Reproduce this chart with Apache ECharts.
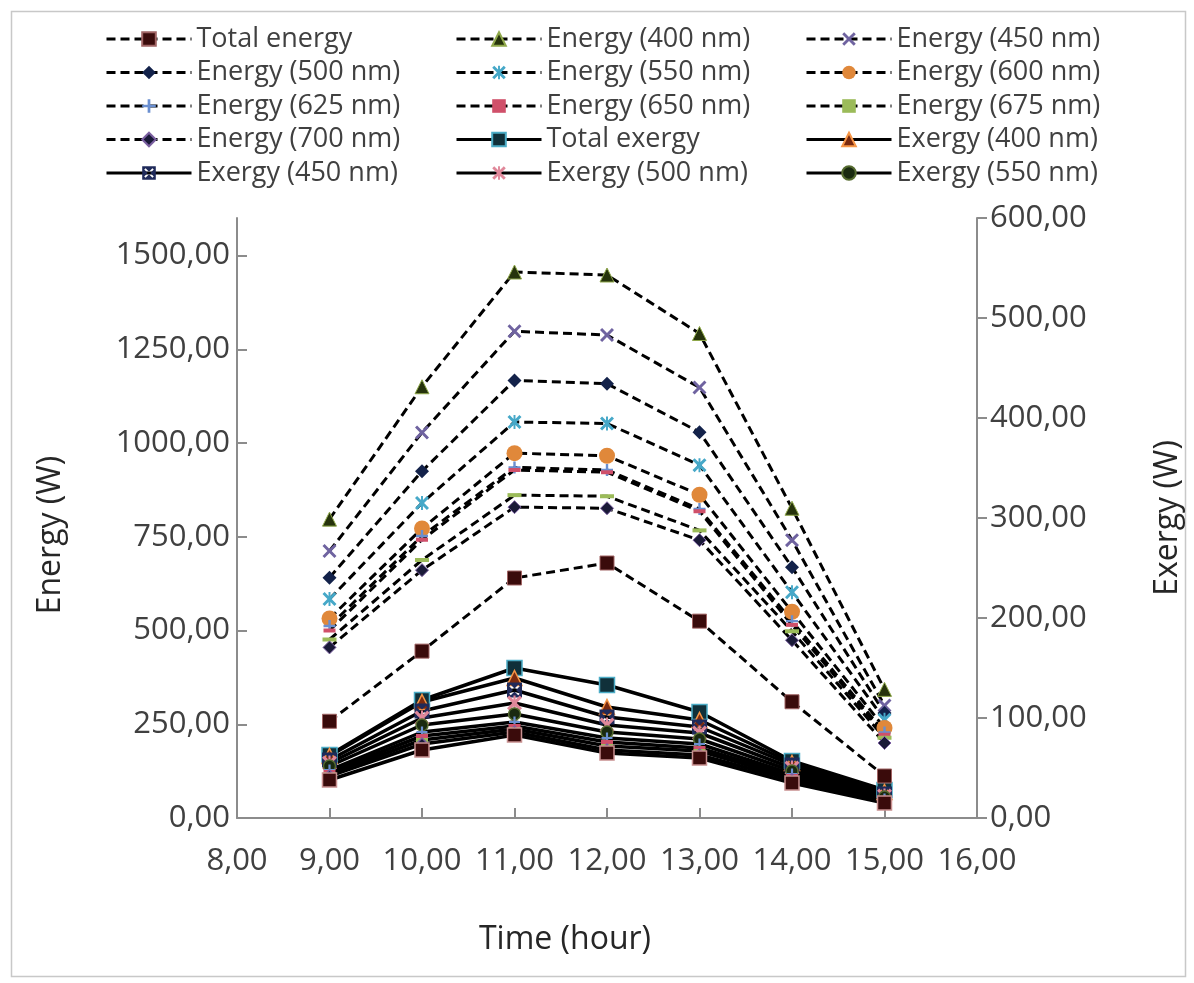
<!DOCTYPE html>
<html>
<head>
<meta charset="utf-8">
<script src="https://cdn.jsdelivr.net/npm/echarts@6/dist/echarts.min.js"></script>
<style>
  html, body { margin: 0; padding: 0; background: #ffffff; }
  #chart { width: 1194px; height: 983px; }
</style>
</head>
<body>
<div id="chart"></div>
<script>
// Hours of the day (x values)
const hours = [9, 10, 11, 12, 13, 14, 15];

// Tick values
const xTicks = [8, 9, 10, 11, 12, 13, 14, 15, 16];
const energyTicks = [0, 250, 500, 750, 1000, 1250, 1500];
const exergyTicks = [0, 100, 200, 300, 400, 500, 600];

// Energy (W), left axis
const totalEnergy = [258, 445, 640, 680, 525, 310, 112];
const energy400 = [797, 1150, 1456, 1448, 1292, 826, 343];
const energy450 = [712, 1028, 1298, 1288, 1148, 741, 300];
const energy500 = [641, 925, 1167, 1158, 1029, 669, 280];
const energy550 = [584, 840, 1056, 1052, 941, 602, 262];
const energy600 = [532, 772, 973, 966, 862, 550, 240];
const energy625 = [512, 752, 935, 928, 824, 525, 228];
const energy650 = [500, 742, 928, 922, 818, 515, 222];
const energy675 = [476, 688, 861, 858, 767, 498, 214];
const energy700 = [455, 661, 829, 826, 741, 474, 200];

// Exergy (W), right axis
const totalExergy = [63, 118, 150, 133, 106, 57, 28];
const exergy400 = [62, 116, 140, 111, 98, 55, 26];
const exergy450 = [58, 107, 128, 101, 91, 53, 24];
const exergy500 = [55, 100, 115, 93, 85, 50, 22];
const exergy550 = [52, 93, 104, 86, 79, 47, 21];
const exergy600 = [48, 86, 96, 80, 74, 44, 19];
const exergy625 = [46, 82, 92, 76, 70, 42, 18];
const exergy650 = [44, 78, 89, 72, 67, 40, 17];
const exergy675 = [42, 74, 86, 68, 63, 38, 16];
const exergy700 = [38, 68, 83, 65, 60, 35, 15];

// Marker shapes
const X_PATH = 'path://M0,1.5L1.5,0L5,3.5L8.5,0L10,1.5L6.5,5L10,8.5L8.5,10L5,6.5L1.5,10L0,8.5L3.5,5Z';
const STAR_PATH = 'path://M0,1.5L1.5,0L5,3.5L8.5,0L10,1.5L6.5,5L10,8.5L8.5,10L5,6.5L1.5,10L0,8.5L3.5,5Z M4.3,0H5.7V10H4.3Z';
const PLUS_PATH = 'path://M4,0H6V4H10V6H6V10H4V6H0V4H4Z';
const DASH_PATH = 'path://M0,0H10V3H0Z';
const BOXX_PATH = 'path://M0,0V10H10V0Z M1.5,2.5L2.5,1.5L5,4L7.5,1.5L8.5,2.5L6,5L8.5,7.5L7.5,8.5L5,6L2.5,8.5L1.5,7.5L4,5Z';

const FONT = 'Open Sans';
const fmt = v => v.toFixed(2).replace('.', ',');

function energySeries(name, data, symbol, size, fill, border) {
  return {
    name, type: 'line', yAxisIndex: 0,
    data: hours.map((h, i) => [h, data[i]]),
    symbol, symbolSize: size, showAllSymbol: true,
    lineStyle: { color: '#000', width: 3, type: [9, 5] },
    itemStyle: { color: fill, borderColor: border || fill, borderWidth: border ? 1 : 0 },
    emphasis: { disabled: true },
    z: 3
  };
}
function exergySeries(name, data, symbol, size, fill, border) {
  return {
    name, type: 'line', yAxisIndex: 1,
    data: hours.map((h, i) => [h, data[i]]),
    symbol, symbolSize: size, showAllSymbol: true,
    lineStyle: { color: '#000', width: 3.5 },
    itemStyle: { color: fill, borderColor: border || fill, borderWidth: border ? 1.5 : 0 },
    emphasis: { disabled: true },
    z: 2
  };
}

const series = [
  energySeries('Total energy', totalEnergy, 'rect', 14, '#3a0b0b', '#a06464'),
  energySeries('Energy (400 nm)', energy400, 'triangle', 14, '#26330c', '#8fa84a'),
  energySeries('Energy (450 nm)', energy450, X_PATH, 14, '#6f63a0'),
  energySeries('Energy (500 nm)', energy500, 'diamond', 14, '#13224a'),
  energySeries('Energy (550 nm)', energy550, STAR_PATH, 14, '#46a8c8'),
  energySeries('Energy (600 nm)', energy600, 'circle', 16, '#e0883a'),
  energySeries('Energy (625 nm)', energy625, PLUS_PATH, 12, '#6a8fd0'),
  energySeries('Energy (650 nm)', energy650, DASH_PATH, [12, 4], '#d0506a'),
  energySeries('Energy (675 nm)', energy675, DASH_PATH, [14, 4], '#9bbb59'),
  energySeries('Energy (700 nm)', energy700, 'diamond', 13, '#1a1a38', '#7a5fa0'),
  exergySeries('Total exergy', totalExergy, 'rect', 15, '#10303a', '#4bacc6'),
  exergySeries('Exergy (400 nm)', exergy400, 'triangle', 15, '#7a2a10', '#f79646'),
  exergySeries('Exergy (450 nm)', exergy450, BOXX_PATH, 15, '#1f2a5a'),
  exergySeries('Exergy (500 nm)', exergy500, STAR_PATH, 15, '#e0889a'),
  exergySeries('Exergy (550 nm)', exergy550, 'circle', 12, '#1a2a10', '#556b2f'),
  exergySeries('Exergy (600 nm)', exergy600, PLUS_PATH, 11, '#6a8fd0'),
  exergySeries('Exergy (625 nm)', exergy625, DASH_PATH, [12, 4], '#d0506a'),
  exergySeries('Exergy (650 nm)', exergy650, DASH_PATH, [12, 4], '#9bbb59'),
  exergySeries('Exergy (675 nm)', exergy675, 'diamond', 12, '#1a1a38', '#7a5fa0'),
  exergySeries('Exergy (700 nm)', exergy700, 'rect', 14, '#3a0b0b', '#c89090')
];

// Legend columns
const legendCols = [
  ['Total energy', 'Energy (500 nm)', 'Energy (625 nm)', 'Energy (700 nm)', 'Exergy (450 nm)'],
  ['Energy (400 nm)', 'Energy (550 nm)', 'Energy (650 nm)', 'Total exergy', 'Exergy (500 nm)'],
  ['Energy (450 nm)', 'Energy (600 nm)', 'Energy (675 nm)', 'Exergy (400 nm)', 'Exergy (550 nm)']
];
const legendLefts = [105, 455, 805];

const axisLineStyle = { color: '#8c8c8c', width: 2 };
const labelStyle = { color: '#404040', fontFamily: FONT, fontSize: 31 };
const nameStyle = { color: '#262626', fontFamily: FONT, fontSize: 32 };

const chart = echarts.init(document.getElementById('chart'), null, { renderer: 'canvas' });
chart.setOption({
  backgroundColor: '#ffffff',
  animation: false,
  graphic: [{
    type: 'rect', left: 9, top: 9,
    shape: { width: 1174, height: 965 },
    style: { fill: 'none', stroke: '#c8c8c8', lineWidth: 1.5 }
  }],
  legend: legendCols.map((col, i) => ({
    data: col,
    orient: 'vertical',
    left: legendLefts[i],
    top: 24,
    padding: 0,
    itemWidth: 85,
    itemHeight: 17,
    itemGap: 3.5,
    selectedMode: false,
    lineStyle: { width: 3 },
    textStyle: { color: '#404040', fontFamily: FONT, fontSize: 27, lineHeight: 30 }
  })),
  grid: { left: 237, right: 217, top: 218, bottom: 165, containLabel: false },
  xAxis: {
    type: 'value', min: 8, max: 16, interval: 1,
    name: 'Time (hour)', nameLocation: 'middle', nameGap: 106,
    nameTextStyle: Object.assign({ padding: [0, 84, 0, 0] }, nameStyle),
    axisLine: { lineStyle: axisLineStyle },
    axisTick: { inside: true, length: 10, lineStyle: axisLineStyle, customValues: xTicks },
    axisLabel: Object.assign({ margin: 28, formatter: fmt, customValues: xTicks }, labelStyle),
    splitLine: { show: false }
  },
  yAxis: [{
    type: 'value', min: 0, max: 1600, interval: 250, position: 'left',
    name: 'Energy (W)', nameLocation: 'middle', nameGap: 170, nameRotate: 90,
    nameTextStyle: Object.assign({ padding: [0, 34, 0, 0] }, nameStyle),
    axisLine: { show: true, lineStyle: axisLineStyle },
    axisTick: { show: true, inside: true, length: 10, lineStyle: axisLineStyle, customValues: energyTicks },
    axisLabel: Object.assign({ margin: 7, formatter: fmt, customValues: energyTicks }, labelStyle),
    splitLine: { show: false }
  }, {
    type: 'value', min: 0, max: 600, interval: 100, position: 'right',
    name: 'Exergy (W)', nameLocation: 'middle', nameGap: 175, nameRotate: 90, nameTextStyle: nameStyle,
    axisLine: { show: true, lineStyle: axisLineStyle },
    axisTick: { show: true, inside: false, length: 10, lineStyle: axisLineStyle, customValues: exergyTicks },
    axisLabel: Object.assign({ margin: 13, formatter: fmt, customValues: exergyTicks }, labelStyle),
    splitLine: { show: false }
  }],
  series
});
</script>
</body>
</html>
